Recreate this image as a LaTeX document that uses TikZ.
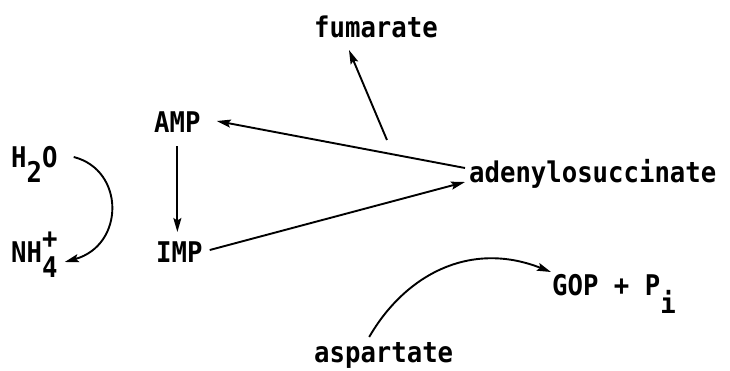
\documentclass[tikz,border=0pt]{standalone}
\usepackage{fontspec}
\newfontfamily\chemfont{DejaVu Sans Mono Bold}[FakeStretch=0.9]
\usetikzlibrary{arrows.meta,calc}
\newcommand{\subdown}[1]{\raisebox{-15pt}{#1}}
\begin{document}
\begin{tikzpicture}[x=1pt,y=-1pt,
  lbl/.style={inner sep=0pt,anchor=base west,font=\chemfont\fontsize{28.5}{34}\selectfont},
  conn/.style={line width=1.9pt,-{Stealth[length=14pt,width=8pt,inset=2.5pt]}},
  plain/.style={line width=1.9pt}]
\useasboundingbox (0,0) rectangle (730,370);

% species
\node[lbl] (fum)  at (314,37)  {fumarate};
\node[lbl] (amp)  at (154,132) {AMP};
\node[lbl] (imp)  at (156,262) {IMP};
\node[lbl] (ado)  at (469,182) {adenylosuccinate};
\node[lbl] (h2o)  at (11,167)  {H\subdown{2}O};
\node[lbl] (nh4)  at (11,262)  {NH\rlap{\raisebox{14pt}{+}}\subdown{4}};
\node[lbl] (gop)  at (552,295) {GOP + P\raisebox{-18pt}{i}};
\node[lbl] (asp)  at (314,362) {aspartate};

% main cycle
\draw[conn] ($(ado.base west)+(-4,-14)$) -- ($(amp.base east)+(16,-11)$);
\draw[conn] ($(amp.base)+(0,14)$) -- ($(amp.base |- imp.base)+(0,-30)$);
\draw[conn] ($(imp.base east)+(7,-12)$) -- ($(ado.base west)+(-4,0)$);

% fumarate release
\draw[conn] ($(fum.base)+(11,103)$) -- ($(fum.base)+(-27,13)$);

% side reactions
\draw[conn] ($(h2o.base east)+(16,-10)$)
  .. controls (125,170) and (125,245) .. ($(nh4.base east)+(7,0)$);
\draw[conn] ($(asp.base)+(-14.5,-25)$)
  .. controls (405,275) and (470,240) .. ($(gop.base west)+(-1,-23)$);
\end{tikzpicture}
\end{document}
